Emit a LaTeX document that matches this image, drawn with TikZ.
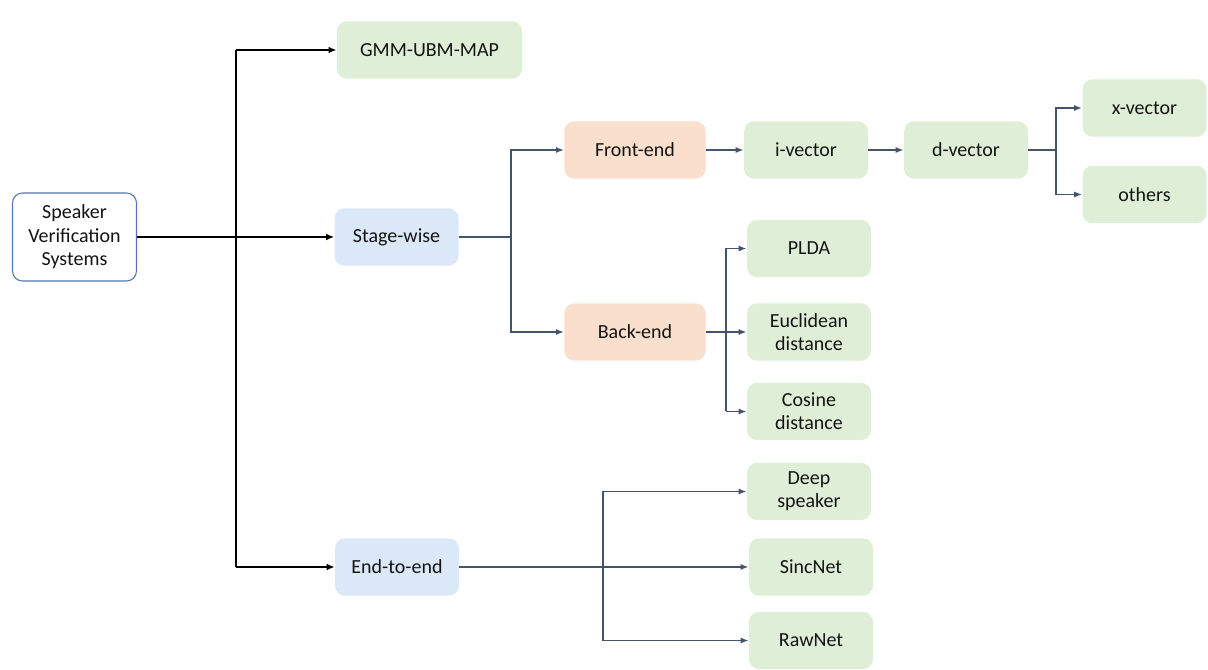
\documentclass[tikz,border=0pt]{standalone}
\usepackage{fontspec}
\setmainfont{Carlito}
\usetikzlibrary{arrows.meta}
\definecolor{boxgreen}{HTML}{DFEED6}
\definecolor{boxblue}{HTML}{DAE8F7}
\definecolor{boxpeach}{HTML}{FADFCC}
\definecolor{rootline}{HTML}{5575AE}
\definecolor{slate}{HTML}{44546A}
\definecolor{txt}{HTML}{141414}
\tikzset{
  box/.style={rounded corners=7.5pt, minimum height=43pt, align=center,
    font=\fontsize{15}{17.5}\selectfont, text=txt, inner sep=2pt},
  green/.style={box, fill=boxgreen, minimum width=93pt},
  blue/.style={box, fill=boxblue, minimum width=93pt},
  peach/.style={box, fill=boxpeach, minimum width=106pt},
  root/.style={box, draw=rootline, line width=0.8pt, fill=white,
    minimum width=93pt, minimum height=66pt},
  blackarr/.style={draw=black, line width=1.4pt, -{Latex[length=6pt,width=5pt]}},
  blackline/.style={draw=black, line width=1.4pt},
  arr/.style={draw=slate, line width=1.3pt, -{Latex[length=6pt,width=4.5pt]}},
  plain/.style={draw=slate, line width=1.3pt},
}
\begin{document}
\begin{tikzpicture}[x=0.75pt, y=-0.75pt]
\useasboundingbox (0,0) rectangle (1208,670);

% root and first level
\node[root] (svs) at (74.5,237) {Speaker\\Verification\\Systems};
\node[green, minimum width=139pt] (gmm) at (429.5,50) {GMM-UBM-MAP};
\node[blue] (stage) at (396.5,237) {Stage-wise};
\node[blue] (e2e) at (397,567) {End-to-end};

% stage-wise branch
\node[peach] (front) at (635,150) {Front-end};
\node[peach] (back) at (635,332) {Back-end};
\node[green] (ivec) at (806,150) {i-vector};
\node[green] (dvec) at (966,150) {d-vector};
\node[green] (xvec) at (1144.5,108) {x-vector};
\node[green] (others) at (1144.5,194.5) {others};
\node[green] (plda) at (809,248.5) {PLDA};
\node[green] (eucl) at (809,332) {Euclidean\\distance};
\node[green] (cos) at (809,411.5) {Cosine\\distance};

% end-to-end branch
\node[green] (deep) at (809,491.5) {Deep\\speaker};
\node[green] (sinc) at (811,567) {SincNet};
\node[green] (raw) at (811,640.5) {RawNet};

% junction points
\coordinate (trunkTop) at (236,50);
\coordinate (trunkBot) at (236,567);
\coordinate (sj) at (511,237);
\coordinate (dj) at (1056,150);
\coordinate (bjTop) at (726,248.5);
\coordinate (bjBot) at (726,411.5);
\coordinate (ejTop) at (603,491.5);
\coordinate (ejBot) at (603,640.5);

% root connectors
\draw[blackline] (trunkTop) -- (trunkBot);
\draw[blackarr] (svs.east) -- (stage.west);
\draw[blackarr] (trunkTop) -- (gmm.west);
\draw[blackarr] (trunkBot) -- (e2e.west);

% stage-wise connectors
\draw[plain] (stage.east) -- (sj);
\draw[arr] (sj) |- (front.west);
\draw[arr] (sj) |- (back.west);
\draw[arr] (front.east) -- (ivec.west);
\draw[arr] (ivec.east) -- (dvec.west);
\draw[plain] (dvec.east) -- (dj);
\draw[arr] (dj) |- (xvec.west);
\draw[arr] (dj) |- (others.west);
\draw[plain] (bjTop) -- (bjBot);
\draw[arr] (back.east) -- (eucl.west);
\draw[arr] (bjTop) -- (plda.west);
\draw[arr] (bjBot) -- (cos.west);

% end-to-end connectors
\draw[plain] (ejTop) -- (ejBot);
\draw[arr] (e2e.east) -- (sinc.west);
\draw[arr] (ejTop) -- (deep.west);
\draw[arr] (ejBot) -- (raw.west);
\end{tikzpicture}
\end{document}
